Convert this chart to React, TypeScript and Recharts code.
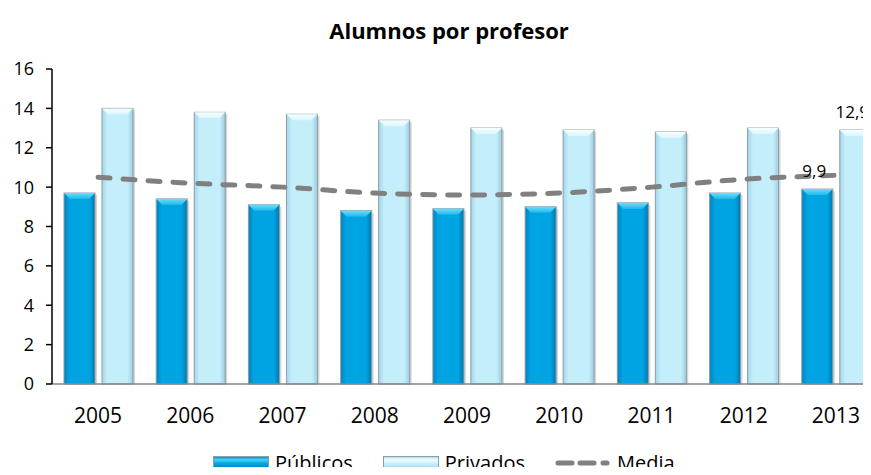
import React from "react";
import {
  ComposedChart,
  Bar,
  Line,
  XAxis,
  YAxis,
  LabelList,
} from "recharts";

// values
const years = ["2005", "2006", "2007", "2008", "2009", "2010", "2011", "2012", "2013"];
const publicos = [9.7, 9.4, 9.1, 8.8, 8.9, 9.0, 9.2, 9.7, 9.9];
const privados = [14.0, 13.8, 13.7, 13.4, 13.0, 12.9, 12.8, 13.0, 12.9];
const media = [10.5, 10.2, 10.0, 9.7, 9.6, 9.7, 10.0, 10.4, 10.6];
const yTicks = [0, 2, 4, 6, 8, 10, 12, 14, 16];

const data = years.map((year, i) => ({
  year,
  publicos: publicos[i],
  privados: privados[i],
  media: media[i],
}));

const FONT = "'Open Sans', sans-serif";

// bar with a lighter bevel on top and a soft shadow, like the Excel style
const BevelBar = (props: any) => {
  const { x, y, width, height, kind } = props;
  if (!height || height <= 0) return null;
  const b = 6;
  return (
    <g>
      <rect x={x + 2} y={y + 2} width={width} height={height - 2} fill="rgba(0,0,0,0.16)" />
      <rect
        x={x}
        y={y}
        width={width}
        height={height}
        fill={`url(#side-${kind})`}
        stroke="#8a9ea6"
        strokeWidth={1}
      />
      <polygon
        points={`${x},${y} ${x + width},${y} ${x + width - b},${y + b} ${x + b},${y + b}`}
        fill={`url(#top-${kind})`}
      />
    </g>
  );
};

// only the last year gets a value label
const lastLabel = (props: any) => {
  const { x, y, width, value, index } = props;
  if (index !== years.length - 1) return null;
  return (
    <text
      x={x + width / 2 - 3}
      y={y - 12}
      textAnchor="middle"
      fontFamily={FONT}
      fontSize={17}
      fill="#000"
    >
      {String(value).replace(".", ",")}
    </text>
  );
};

const Swatch = ({ kind }: { kind: string }) => (
  <svg width={56} height={14} style={{ marginRight: 6 }}>
    <defs>
      <linearGradient id={`lg-${kind}`} x1="0" y1="0" x2="0" y2="1">
        {kind === "pub" ? (
          <>
            <stop offset="0%" stopColor="#0086c3" />
            <stop offset="25%" stopColor="#49d2f6" />
            <stop offset="55%" stopColor="#00a3e0" />
            <stop offset="100%" stopColor="#0079b0" />
          </>
        ) : (
          <>
            <stop offset="0%" stopColor="#a6d8ec" />
            <stop offset="25%" stopColor="#f2fcff" />
            <stop offset="55%" stopColor="#c6effc" />
            <stop offset="100%" stopColor="#9fd0e4" />
          </>
        )}
      </linearGradient>
    </defs>
    <rect x={0.5} y={0.5} width={55} height={13} fill={`url(#lg-${kind})`} stroke="#8a9ea6" />
  </svg>
);

const MediaIcon = () => (
  <svg width={56} height={14} style={{ marginRight: 6 }}>
    <line x1={3} y1={7} x2={17} y2={7} stroke="#808080" strokeWidth={5} strokeLinecap="round" />
    <line x1={25} y1={7} x2={39} y2={7} stroke="#808080" strokeWidth={5} strokeLinecap="round" />
    <line x1={48} y1={7} x2={52} y2={7} stroke="#808080" strokeWidth={5} strokeLinecap="round" />
  </svg>
);

const legendItem: React.CSSProperties = {
  display: "flex",
  alignItems: "center",
  fontSize: 20,
  lineHeight: "20px",
  color: "#000",
};

export default function App() {
  return (
    <div
      style={{
        position: "relative",
        width: 871,
        height: 475,
        margin: -8,
        overflow: "hidden",
        background: "#fff",
        fontFamily: FONT,
      }}
    >
      <div
        style={{
          position: "absolute",
          top: 16,
          left: 0,
          width: 898,
          textAlign: "center",
          fontWeight: "bold",
          fontSize: 22,
          lineHeight: "28px",
        }}
      >
        Alumnos por profesor
      </div>

      <ComposedChart
        width={882}
        height={475}
        data={data}
        margin={{ top: 69, right: 0, bottom: 0, left: 0 }}
        barSize={31}
        barGap={7}
      >
        <defs>
          <linearGradient id="side-pub" x1="0" y1="0" x2="1" y2="0">
            <stop offset="0%" stopColor="#0083c0" />
            <stop offset="18%" stopColor="#00a4e2" />
            <stop offset="82%" stopColor="#00a4e2" />
            <stop offset="100%" stopColor="#0077ad" />
          </linearGradient>
          <linearGradient id="top-pub" x1="0" y1="0" x2="0" y2="1">
            <stop offset="0%" stopColor="#6edcf8" />
            <stop offset="100%" stopColor="#1cb8ec" />
          </linearGradient>
          <linearGradient id="side-priv" x1="0" y1="0" x2="1" y2="0">
            <stop offset="0%" stopColor="#a3d6ea" />
            <stop offset="18%" stopColor="#c5eefb" />
            <stop offset="82%" stopColor="#c5eefb" />
            <stop offset="100%" stopColor="#9ccde1" />
          </linearGradient>
          <linearGradient id="top-priv" x1="0" y1="0" x2="0" y2="1">
            <stop offset="0%" stopColor="#f7feff" />
            <stop offset="100%" stopColor="#dcf6fe" />
          </linearGradient>
        </defs>
        <XAxis
          dataKey="year"
          height={91}
          tickLine={false}
          axisLine={{ stroke: "#868686", strokeWidth: 1.5 }}
          tick={{ fontFamily: FONT, fontSize: 21, fill: "#000" }}
          tickMargin={18}
        />
        <YAxis
          width={52}
          domain={[0, 16]}
          ticks={yTicks}
          interval={0}
          axisLine={{ stroke: "#000", strokeWidth: 1.5 }}
          tickLine={{ stroke: "#000", strokeWidth: 1.5 }}
          tickSize={6}
          tickMargin={12}
          tick={{ fontFamily: FONT, fontSize: 18, fill: "#000" }}
        />
        <Bar
          dataKey="publicos"
          isAnimationActive={false}
          shape={(p: any) => <BevelBar {...p} kind="pub" />}
        >
          <LabelList dataKey="publicos" content={lastLabel} />
        </Bar>
        <Bar
          dataKey="privados"
          isAnimationActive={false}
          shape={(p: any) => <BevelBar {...p} kind="priv" />}
        >
          <LabelList dataKey="privados" content={lastLabel} />
        </Bar>
        <Line
          type="monotone"
          dataKey="media"
          stroke="#808080"
          strokeWidth={5}
          strokeDasharray="12 13"
          strokeLinecap="round"
          dot={false}
          activeDot={false}
          isAnimationActive={false}
        />
      </ComposedChart>

      <div
        style={{
          position: "absolute",
          top: 453,
          left: 213,
          display: "flex",
          gap: 30,
        }}
      >
        <div style={legendItem}>
          <Swatch kind="pub" />
          Públicos
        </div>
        <div style={legendItem}>
          <Swatch kind="priv" />
          Privados
        </div>
        <div style={legendItem}>
          <MediaIcon />
          Media
        </div>
      </div>
    </div>
  );
}
